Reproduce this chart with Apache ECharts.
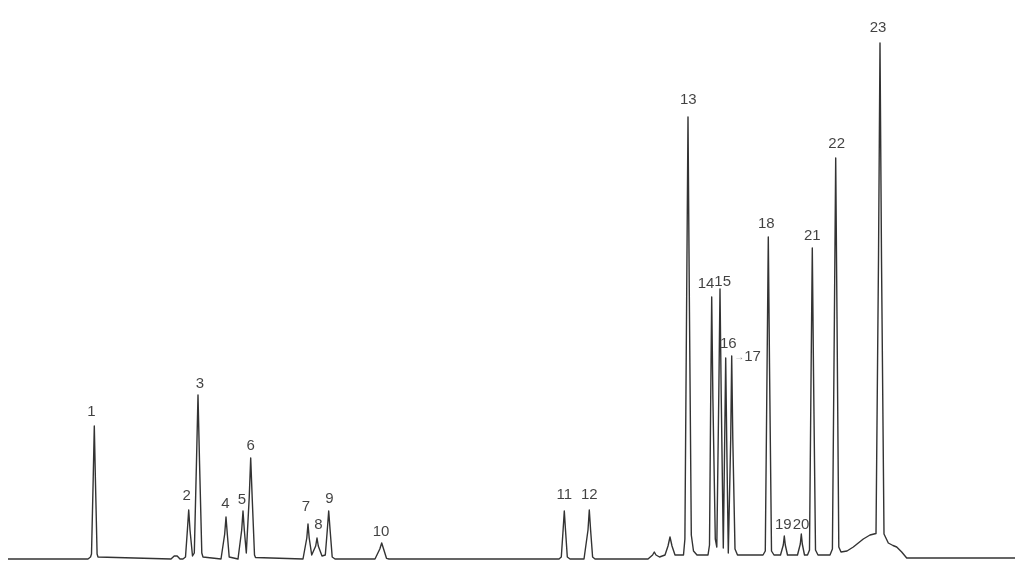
<!DOCTYPE html>
<html>
<head>
<meta charset="utf-8">
<script src="https://cdn.jsdelivr.net/npm/echarts@6/dist/echarts.min.js"></script>
<style>
html,body{margin:0;padding:0;background:#fff;}
#chart{width:1024px;height:576px;}
</style>
</head>
<body>
<div id="chart"></div>
<script>
// Chromatogram trace: retention time (min) and detector signal (arbitrary units)
const traceTime = [
  0, 3.2, 3.3, 3.34, 3.408, 3.452, 3.496, 3.564, 3.6, 3.68,
  6.52, 6.648, 6.708, 6.768, 6.88,
  7.0, 7.1, 7.176, 7.228, 7.28, 7.38, 7.452, 7.54, 7.6, 7.66, 7.752, 7.8, 7.84,
  8.52, 8.56, 8.592, 8.668, 8.72, 8.772, 8.848, 8.88, 8.92,
  9.2, 9.24, 9.272, 9.348, 9.4, 9.452, 9.532, 9.648, 9.708, 9.768, 9.86, 9.9, 9.96,
  11.8, 11.88, 11.952, 12.0, 12.048, 12.148, 12.308, 12.36, 12.412, 12.56, 12.692, 12.772, 12.828, 12.884, 12.968, 13.02, 13.08,
  14.68, 14.76, 14.872, 14.948, 15.024, 15.14, 15.24,
  22.04, 22.1, 22.132, 22.204, 22.252, 22.3, 22.372, 22.42, 22.48,
  23.04, 23.09, 23.12, 23.2, 23.252, 23.304, 23.384, 23.43, 23.48,
  25.6, 25.68, 25.784, 25.852, 25.92, 26.06, 26.28, 26.4, 26.48, 26.56, 26.68,
  27.02, 27.076, 27.148, 27.2, 27.252, 27.332, 27.42, 27.56,
  28.0, 28.06, 28.108, 28.148, 28.196, 28.292, 28.352, 28.432, 28.48, 28.528, 28.612,
  28.668, 28.708, 28.748, 28.812, 28.908, 28.948, 28.992, 29.08, 29.18,
  30.2, 30.292, 30.364, 30.412, 30.46, 30.54, 30.64,
  30.9, 31.012, 31.052, 31.092, 31.18,
  31.58, 31.692, 31.732, 31.772, 31.86,
  31.98, 32.06, 32.124, 32.172, 32.22, 32.3, 32.4,
  32.88, 32.976, 33.056, 33.108, 33.16, 33.232, 33.32, 33.56, 33.812, 34.212, 34.48, 34.72,
  34.82, 34.88, 34.94, 35.04, 35.212, 35.4, 35.548, 35.748, 35.948, 40.28
];
const traceSignal = [
  0, 0, 0.4, 1, 16, 26.6, 16, 1, 0.4, 0,
  0, 0.6, 1, 0.6, 0,
  0, 0.4, 5.8, 9.8, 5.8, 0.6, 1.2, 19.6, 32.8, 19.6, 1.2, 0.4, 0,
  0, 0.15, 0.4, 5, 8.4, 5, 0.4, 0.15, 0,
  0, 0.15, 0.4, 5.8, 9.6, 5.8, 1.2, 12.2, 20.2, 12.2, 0.8, 0.3, 0,
  0, 0.3, 4.2, 7, 4.2, 0.8, 2.6, 4.2, 2.6, 0.6, 0.8, 5.8, 9.6, 5.8, 0.4, 0.15, 0,
  0, 0.14, 2, 3.2, 2, 0.14, 0,
  0, 0.15, 0.4, 5.8, 9.6, 5.8, 0.4, 0.15, 0,
  0, 0.15, 0.4, 5.8, 9.8, 5.8, 0.4, 0.15, 0,
  0, 0.1, 0.8, 1.4, 0.8, 0.4, 0.8, 2.6, 4.4, 2.6, 0.8,
  0.8, 4, 53.4, 88.4, 53.4, 4.8, 1.6, 0.8,
  0.8, 2.8, 32, 52.4, 32, 4, 2.4, 33, 54, 33, 2.2,
  24, 40.2, 24, 1.2, 24, 40.6, 24, 2, 0.8,
  0.8, 1.6, 39, 64.4, 39, 1.6, 0.8,
  0.8, 2.8, 4.6, 2.8, 0.8,
  0.8, 3, 5, 3, 0.8,
  0.8, 1.8, 37.6, 62.2, 37.6, 1.8, 0.8,
  0.8, 2, 48.4, 80.2, 48.4, 2.4, 1.4, 1.6, 2.4, 4, 4.8, 5.1,
  60, 103.2, 60, 5, 3.2, 2.7, 2.4, 1.4, 0.2, 0.2
];

// Peak table: label, retention time, apex height
const peakNames = ['1','2','3','4','5','6','7','8','9','10','11','12','13','14','15','16','17','18','19','20','21','22','23'];
const peakTimes = [3.452, 7.228, 7.6, 8.72, 9.4, 9.708, 12.0, 12.36, 12.828, 14.948, 22.252, 23.252, 27.2, 28.148, 28.48, 28.708, 28.948, 30.412, 31.052, 31.732, 32.172, 33.108, 34.88];
const peakHeights = [26.6, 9.8, 32.8, 8.4, 9.6, 20.2, 7, 4.2, 9.6, 3.2, 9.6, 9.8, 88.4, 52.4, 54, 40.2, 40.6, 64.4, 4.6, 5, 62.2, 80.2, 103.2];

// label placement styles (pixel offsets), keyed by peak name
const labelOffsets = {
  '1': [-3, -6.7], '2': [-2, -7], '3': [2, -4], '4': [-0.7, -5.7], '5': [-1, -3.7],
  '6': [0, -4.6], '7': [-2, -9.3], '8': [1.3, -5.3], '9': [0.6, -4.4], '10': [-0.7, -4],
  '11': [0, -9], '12': [0, -7.7], '13': [0.3, -9.6], '14': [-5.7, -5.3], '15': [2.7, 0.4],
  '16': [2.6, -6.3], '18': [-2, -5.3], '19': [-1, -4], '20': [-0.3, -2],
  '21': [0, -4.6], '22': [1, -6.3], '23': [-2, -8]
};

const traceData = traceTime.map((t, i) => [t, traceSignal[i]]);
const labelData = peakNames.map((n, i) => {
  const item = { name: n, value: [peakTimes[i], peakHeights[i]] };
  if (n === '17') {
    item.label = {
      position: 'right', distance: 2, offset: [0, 1.3],
      formatter: '{a|→}{b|17}',
      rich: {
        a: { fontSize: 10, color: '#777', fontFamily: 'Liberation Sans' },
        b: { fontSize: 15, color: '#111', fontFamily: 'Liberation Sans' }
      }
    };
  } else {
    item.label = { offset: labelOffsets[n] };
  }
  return item;
});

const chart = echarts.init(document.getElementById('chart'), null, { renderer: 'canvas' });
chart.setOption({
  animation: false,
  backgroundColor: '#ffffff',
  grid: { left: 8, right: 6, top: 39, bottom: 17 },
  xAxis: { type: 'value', min: 0, max: 40.4, show: false },
  yAxis: { type: 'value', min: 0, max: 104, show: false },
  series: [
    {
      type: 'line',
      data: traceData,
      symbol: 'none',
      smooth: false,
      lineStyle: { color: '#333333', width: 1.4, join: 'round' },
      silent: true,
      clip: false
    },
    {
      type: 'scatter',
      data: labelData,
      symbolSize: 1,
      itemStyle: { color: 'rgba(0,0,0,0)' },
      silent: true,
      label: {
        show: true,
        position: 'top',
        distance: 0,
        formatter: '{b}',
        fontFamily: 'Liberation Sans',
        fontSize: 15,
        lineHeight: 14,
        color: '#111'
      }
    }
  ]
});
</script>
</body>
</html>
